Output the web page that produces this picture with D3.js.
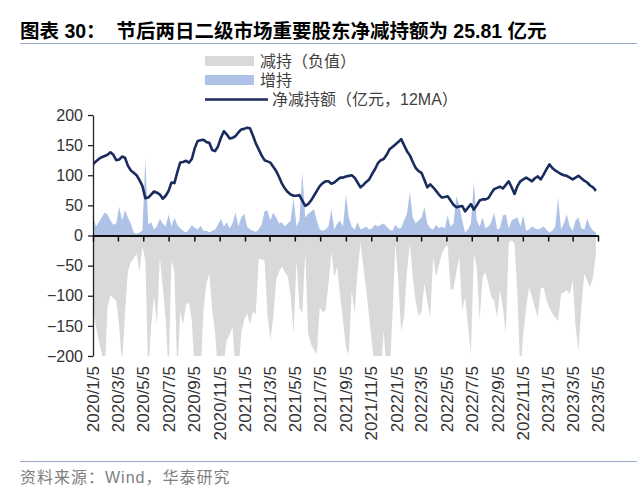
<!DOCTYPE html>
<html><head><meta charset="utf-8">
<script src="https://cdn.jsdelivr.net/npm/d3@7"></script>
<style>
html,body{margin:0;padding:0;background:#fff;}
svg{display:block;}
</style></head>
<body>
<svg id="c" width="640" height="495"></svg>
<script>
// ---- data (weekly, starting 2020/1/5) ----
const startDate = "2020/1/5";
const endDate = "2023/5/5";
const tickLabels = ["2020/1/5","2020/3/5","2020/5/5","2020/7/5","2020/9/5","2020/11/5",
  "2021/1/5","2021/3/5","2021/5/5","2021/7/5","2021/9/5","2021/11/5",
  "2022/1/5","2022/3/5","2022/5/5","2022/7/5","2022/9/5","2022/11/5",
  "2023/1/5","2023/3/5","2023/5/5"];
const yTicks = [-200,-150,-100,-50,0,50,100,150,200];
// 减持（负值）
const reduceVals = [
-119,-150,-175,-195,-230,-120,-99,-104,-108,-150,
-215,-130,-60,-44,-38,-30,-61,-19,-40,-230,
-150,-100,-147,-36,-86,-140,-230,-41,-60,-230,
-127,-147,-115,-111,-141,-230,-220,-230,-124,-80,
-63,-124,-160,-230,-230,-210,-174,-165,-152,-230,
-230,-163,-140,-130,-147,-127,-130,-38,-40,-41,
-130,-174,-136,-74,-60,-52,-60,-69,-100,-163,
-41,-119,-130,-27,-163,-180,-190,-197,-119,-127,
-125,-80,-27,-69,-52,-100,-141,-186,-197,-91,
-130,-60,-13,-52,-91,-136,-180,-230,-230,-230,
-158,-230,-230,-136,-13,-74,-158,-136,-60,-13,
-69,-110,-133,-127,-80,-110,-136,-36,-69,-49,
-30,-20,-16,-91,-88,-60,-36,-124,-102,-150,
-197,-30,-52,-141,-69,-61,-80,-102,-108,-136,
-91,-120,-163,-13,-8,-13,-100,-230,-163,-120,
-86,-102,-120,-136,-88,-86,-108,-120,-130,-136,
-141,-97,-94,-91,-97,-74,-150,-191,-119,-63,
-75,-86,-69,-30];
// 增持
const increaseVals = [
32,15,22,30,38,35,25,18,20,48,
25,42,30,20,5,3,5,8,127,18,
22,10,15,28,20,15,35,15,30,18,
12,8,5,10,17,13,10,16,8,8,
5,8,10,18,28,15,22,12,20,38,
15,30,36,15,10,8,6,10,18,40,
42,25,38,30,20,22,15,20,25,63,
15,25,105,30,36,40,44,25,10,8,
10,15,43,10,20,25,15,68,30,15,
10,22,10,12,15,10,12,18,15,18,
20,15,10,8,18,12,12,25,36,72,
30,20,25,30,47,20,12,10,18,12,
15,12,33,15,20,65,50,25,5,10,
20,88,25,15,30,12,15,22,38,10,
12,33,35,12,25,28,30,15,33,8,
10,15,12,10,12,15,10,5,8,15,
63,10,20,35,15,8,25,30,12,10,
28,15,8,5];
// 净减持额（亿元，12MA）
const netMA = [
118,123,127,130,132,134,138,134,125,126,
131,129,116,108,104,100,92,82,62,63,
68,73,71,68,61,66,74,88,87,105,
121,122,124,121,127,145,157,158,159,155,
154,142,140,148,162,173,168,161,162,165,
171,176,177,179,178,166,153,143,133,125,
123,121,114,107,97,86,78,72,68,66,
66,67,58,49,52,58,66,74,82,87,
90,90,86,88,92,96,96,98,99,100,
96,88,80,84,89,93,102,110,120,125,
127,134,143,147,151,155,160,150,140,133,
122,112,107,104,92,80,85,80,74,68,
63,64,65,58,51,47,48,49,40,46,
52,43,50,58,60,60,62,70,77,79,
81,78,84,90,80,69,82,90,93,96,
93,90,95,98,93,101,110,118,112,108,
105,102,100,99,96,93,96,99,95,91,
88,83,80,74];

const titleText = "图表 30：  节后两日二级市场重要股东净减持额为 25.81 亿元";
const legendLabels = ["减持（负值）","增持","净减持额（亿元，12MA）"];
const sourceText = "资料来源：Wind，华泰研究";

// ---- build ----
const parse = d3.timeParse("%Y/%-m/%-d");
const t0 = parse(startDate), t1 = parse(endDate);
const rows = netMA.map((v,i)=>({date:d3.timeDay.offset(t0,7*i), net:v, red:reduceVals[i], inc:increaseVals[i]}));

const svg = d3.select("#c");
const L=93, R=598, T=115, B=356;
const x = d3.scaleTime().domain([t0,t1]).range([L,R]);
const y = d3.scaleLinear().domain([-200,200]).range([B,T]);

const font = "'Liberation Sans', Arial, 'Noto Sans CJK SC', sans-serif";

// title
svg.append("text").attr("x",20).attr("y",38).attr("font-family",font)
  .attr("font-weight","bold").attr("font-size",19.5).attr("fill","#000")
  .attr("xml:space","preserve").style("white-space","pre").text(titleText);
svg.append("line").attr("x1",20).attr("x2",637).attr("y1",43.5).attr("y2",43.5)
  .attr("stroke","#9aabc9").attr("stroke-width",1.2);

// legend
const lg = svg.append("g");
lg.append("rect").attr("x",205).attr("y",56).attr("width",49).attr("height",10).attr("fill","#d9d9d9");
lg.append("rect").attr("x",205).attr("y",75).attr("width",49).attr("height",10).attr("fill","#adc2e6");
lg.append("line").attr("x1",205).attr("x2",268).attr("y1",99.5).attr("y2",99.5).attr("stroke","#1a2c5e").attr("stroke-width",2.5);
const lgY=[61,80,99.5], lgX=[260,260,272];
legendLabels.forEach((s,i)=>{
  lg.append("text").attr("x",lgX[i]).attr("y",lgY[i]).attr("dy","0.35em")
   .attr("font-family",font).attr("font-size",16).attr("fill","#404040").text(s);
});

// clip
svg.append("clipPath").attr("id","pc").append("rect").attr("x",L).attr("y",T).attr("width",R-L+1).attr("height",B-T);
const pg = svg.append("g").attr("clip-path","url(#pc)");

const areaRed = d3.area().x(d=>x(d.date)).y0(y(0)).y1(d=>y(d.red));
const areaInc = d3.area().x(d=>x(d.date)).y0(y(0)).y1(d=>y(d.inc));
const lineNet = d3.line().x(d=>x(d.date)).y(d=>y(d.net));

pg.append("path").datum(rows).attr("d",areaRed).attr("fill","#d9d9d9");
pg.append("path").datum(rows).attr("d",areaInc).attr("fill","#adc2e6");
pg.append("path").datum(rows).attr("d",lineNet).attr("fill","none")
  .attr("stroke","#1a2c5e").attr("stroke-width",2.6).attr("stroke-linejoin","round");

// y axis
const ya = svg.append("g").attr("transform",`translate(${L},0)`)
  .call(d3.axisLeft(y).tickValues(yTicks).tickSize(5).tickSizeOuter(0).tickPadding(5));
ya.select(".domain").attr("stroke","#222").attr("stroke-width",1.3);
ya.selectAll(".tick line").attr("stroke","#222").attr("stroke-width",1.3);
ya.selectAll("text").attr("font-family",font).attr("font-size",16).attr("fill","#333");

// x axis at zero
const tickDates = tickLabels.map(parse);
const xa = svg.append("g").attr("transform",`translate(0,${y(0)})`)
  .call(d3.axisBottom(x).tickValues(tickDates).tickSize(6).tickSizeOuter(0).tickFormat(""));
xa.select(".domain").attr("stroke","#111").attr("stroke-width",1.8);
xa.selectAll(".tick line").attr("stroke","#111").attr("stroke-width",1.5);

// x labels at bottom
svg.append("g").selectAll("text").data(tickDates).join("text")
  .attr("transform",(d,i)=>`translate(${x(d)},366) rotate(-90)`)
  .attr("text-anchor","end").attr("dy","0.36em")
  .attr("font-family",font).attr("font-size",17).attr("fill","#333")
  .text((d,i)=>tickLabels[i]);

// footer
svg.append("line").attr("x1",20).attr("x2",637).attr("y1",461.5).attr("y2",461.5)
  .attr("stroke","#9aabc9").attr("stroke-width",1.2);
svg.append("text").attr("x",20).attr("y",477).attr("dy","0.35em")
  .attr("font-family",font).attr("font-size",16).attr("letter-spacing",1).attr("fill","#7f7f7f").text(sourceText);
</script>
</body></html>
